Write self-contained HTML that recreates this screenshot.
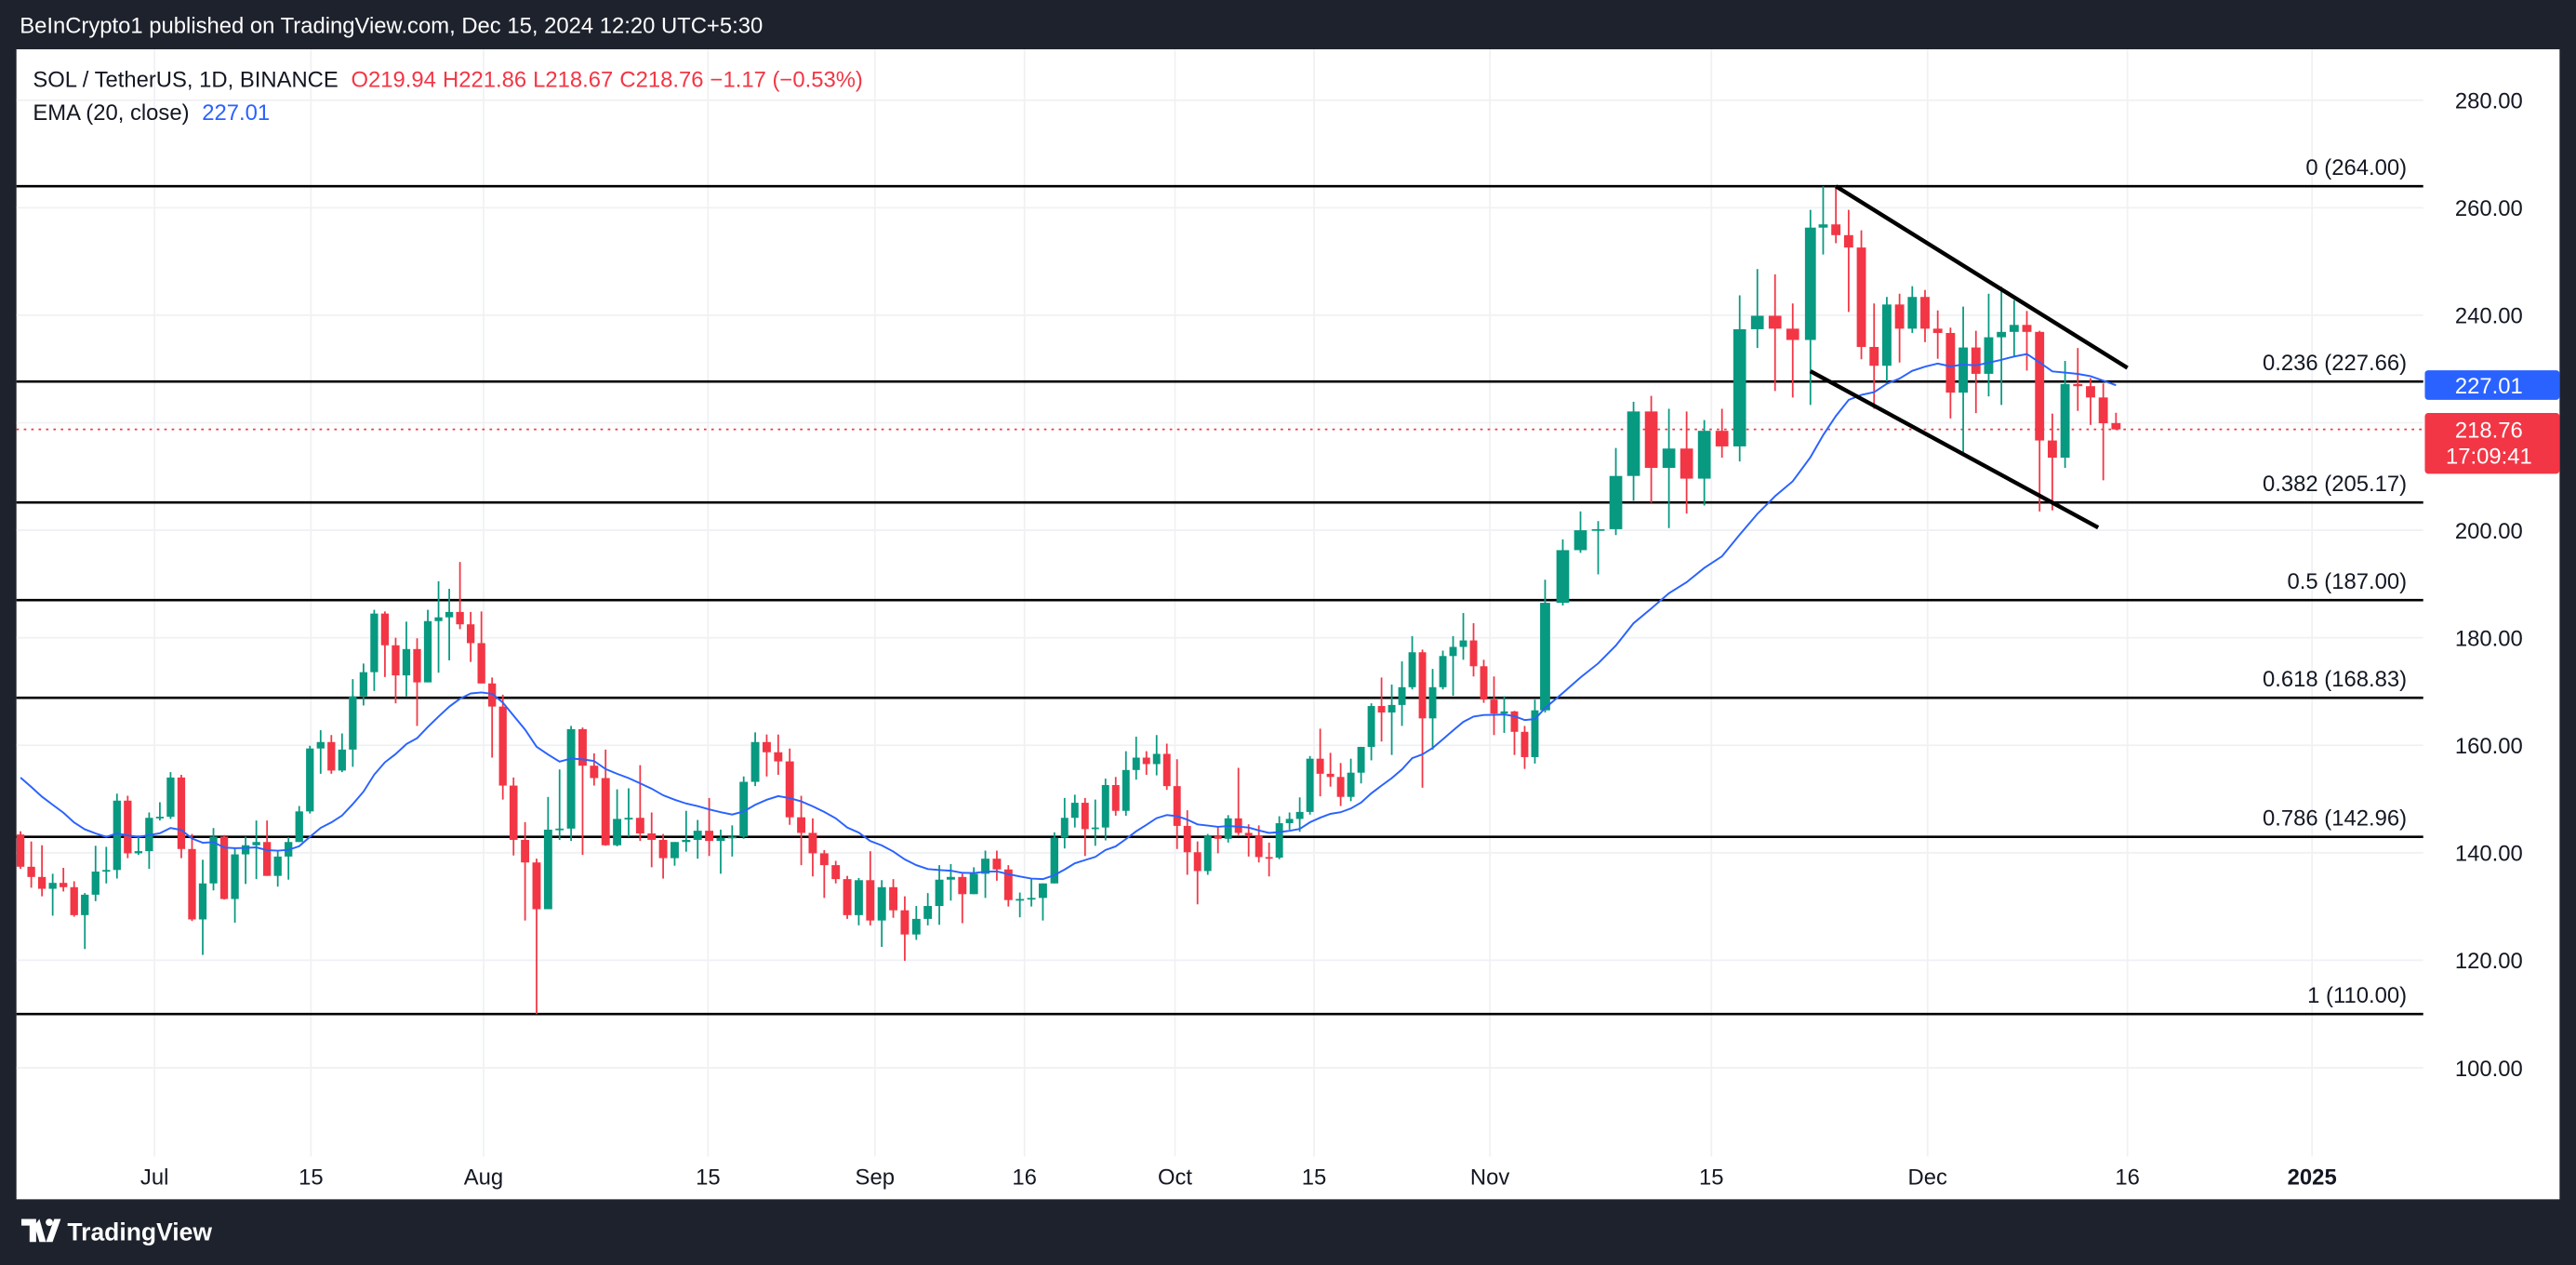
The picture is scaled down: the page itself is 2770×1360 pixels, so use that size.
<!DOCTYPE html>
<html><head><meta charset="utf-8">
<style>
html,body{margin:0;padding:0;background:#1e222d;}
svg{display:block;font-family:"Liberation Sans",sans-serif;}
</style></head>
<body>
<svg id="chart" width="2770" height="1360" viewBox="0 0 1568 770" preserveAspectRatio="none" xmlns="http://www.w3.org/2000/svg">
  <rect x="0" y="0" width="1568" height="770" fill="#1e222d"/>
  <text x="12" y="20" font-size="13.5" fill="#ffffff">BeInCrypto1 published on TradingView.com, Dec 15, 2024 12:20 UTC+5:30</text>
  <rect x="10" y="30" width="1548" height="700" fill="#ffffff"/>
  <g id="grid"></g>
  <g id="fibs"></g>
  <g id="candles"></g>
  <g id="ema"></g>
  <g id="channel"></g>
  <g id="yaxis"></g>
  <g id="xaxis"></g>
  <g>
    <text x="20" y="53" font-size="13.5" fill="#131722">SOL / TetherUS, 1D, BINANCE <tspan fill="#f23645" dx="4">O</tspan><tspan fill="#f23645">219.94</tspan><tspan fill="#f23645" dx="4">H221.86</tspan><tspan fill="#f23645" dx="4">L218.67</tspan><tspan fill="#f23645" dx="4">C218.76</tspan><tspan fill="#f23645" dx="4">−1.17 (−0.53%)</tspan></text>
    <text x="20" y="73" font-size="13.5" fill="#131722">EMA (20, close) <tspan fill="#2962ff" dx="4">227.01</tspan></text>
  </g>
  <g>
    <path d="M13 742 h9 v14 h-4 v-10 h-5 z M24 742 l4 14 h-4 l-3 -10 z" fill="#ffffff"/>
    <circle cx="30" cy="744" r="2.2" fill="#ffffff"/>
    <path d="M33 742 h4 l-5 14 h-4 z" fill="#ffffff"/>
    <text x="41" y="755" font-size="15" font-weight="bold" fill="#ffffff">TradingView</text>
  </g>
</svg>
<script>
// ---- data ----
const opens=[143.4,137.4,135.5,133.3,134.4,133.6,128.4,132.2,136.5,136.8,149.7,139.9,140.3,146.5,146.7,154,140.7,127.6,134.3,143,131.4,139.7,141.4,142,135.7,139.3,142,147.7,159.4,160.6,155.3,159.2,169.1,173.6,184.5,178.6,173,177.9,171.7,183.1,183.8,184.8,182.5,179,171.5,167.2,152.5,142.4,138.2,129.5,144.3,144.5,163,156.2,153.9,141.4,146.3,146.5,143.6,142.4,139,142,142.4,144.1,142.2,142.8,143,153.2,160.6,158.7,157,146.6,143.7,139.9,137.7,135.1,128.4,134.9,127.4,133.6,129.3,124.8,127.7,130.1,135,135.5,132.3,136.1,138.9,136.9,131.2,131.4,131.6,134.3,142.8,146.5,149.3,144.4,144.7,152.6,147.8,155.4,157.7,156.5,158.4,152.4,145,140.1,136.6,143.1,142.6,146.4,143.7,143.1,139.2,139.1,145.5,146.3,147.6,157.5,154.7,154.1,150.4,154.9,159.7,167.3,166.1,167.5,170.8,177.3,165,170.8,176.6,178.3,179.5,174.7,168.5,165.9,166.3,162.5,157.8,166.5,186.5,196.3,200,200.2,210.1,222.1,211.6,215.2,209.6,218.5,215.6,237.4,239.9,237.5,235.4,256.3,256.9,254.9,252.6,234.1,230.6,242,237.5,243.4,237.5,236.7,225.6,234,229.1,235.9,236.9,238.2,236.9,216.7,213.5,227.2,226.8,224.7,219.94];
const highs=[144,142.1,141.4,136.1,137.2,134.7,132.5,141.3,141.1,151,150.6,143,147.5,149.4,155,154.5,143.5,138.7,144.6,143.3,141,143,146,146,140.4,142.9,148.7,159.9,162.8,161.9,162.2,172.3,175.2,185.2,184.9,180,183,179.9,185.2,190.5,189.1,194.1,184.8,184.9,172.6,169.4,154,145.7,138.9,150.4,155.5,163.6,163.3,158.5,159.2,151.8,152,156.3,147.5,143.5,142,147.8,146.1,150.2,144.3,145.1,154.2,162.4,162,162,159.4,150.6,146.4,140.5,138.5,135.7,135.3,140.3,134.9,135.1,131.9,130.1,132.5,137.7,137.9,136.1,137.3,140.4,140.4,137.7,132.6,135.1,134.3,143.8,150.2,150.8,150.2,149.9,153.8,154.1,158.9,161.6,158.9,161.9,160.3,157.4,147.9,142.1,143.5,144.8,147,155.8,145.3,145.1,141.9,146.8,147.5,150.3,158,163.1,158.6,156.7,157.5,159.7,167.8,172.6,171.3,175.6,180.3,177.8,174.2,177.6,180.3,184.6,182.7,175.9,172.8,169.1,166.4,163.6,168.5,190.8,198.3,203.5,201.7,215.3,223.9,225,222.6,222.1,220.5,222.6,243.7,248.6,247.6,242.2,259.6,264,264,259.6,255.8,242.2,243.4,244,245.4,244.7,240.9,237.7,241.6,237.1,244,245.3,242.8,240.8,237.1,221.7,231.5,233.9,228.3,227.3,221.86];
const lows=[137,133.5,131.9,128.3,132.8,128.1,122.1,131,134.3,135.2,139,139.6,137,146,146.3,139,127.3,121,133,131.3,127,134.2,135.1,135.7,133.7,135,142,147.3,154.7,154.7,155,156,167.4,170.1,172.7,167.8,169.1,163.6,171.7,173.5,175.8,181.6,175.5,171.5,157.7,149.9,139.5,127.4,110,129.5,142.4,142.2,139.6,152.5,141.3,141.2,143,142.2,137.3,135.2,137.6,140.2,138.9,139.4,136.1,139.3,142.6,152.4,154.2,154.5,145.2,137.7,135.6,131.6,134.3,127.7,126.5,126.5,122.5,127.9,119.9,123.8,126.5,126.6,131.1,126.9,132.3,131.6,134.8,130,128,130,127.4,134.3,140.8,144.7,139.4,141.3,142.3,146.9,146.9,153.6,154.5,154.4,151.7,140.7,135.9,130.4,135.9,139.9,141.9,143.3,139.3,138.2,135.6,138.8,144.3,143.9,147.1,150.5,152.3,148.7,149.6,152.9,157.2,160.7,158.2,163.6,170.4,152.1,159.2,170.4,169.2,175.9,172.8,167.9,161.9,162.3,158.2,155.6,156.6,166.1,186,195.8,191.8,199.1,205.5,205.1,200.4,203.1,204.6,213.5,212.8,233.9,225.9,224.7,223.3,251.3,253.4,240.6,231.8,222.6,227.7,231.2,236.7,235,231.9,220.8,214.5,221.8,224.9,223.3,232.2,229.7,203.5,203.7,211.6,222.2,219.6,209.3,218.67];
const closes=[137.4,135.5,133.3,134.4,133.6,128.4,132.2,136.5,136.8,149.7,139.9,140.3,146.5,146.7,154,140.7,127.6,134.3,143,131.4,139.7,141.4,142,135.7,139.3,142,147.7,159.4,160.6,155.3,159.2,169.1,173.6,184.5,178.6,173,177.9,171.7,183.1,183.8,184.8,182.5,179,171.5,167.2,152.5,142.4,138.2,129.5,144.3,144.5,163,156.2,153.9,141.4,146.3,146.5,143.6,142.4,139,142,142.4,144.1,142.2,142.8,143,153.2,160.6,158.7,157,146.6,143.7,139.9,137.7,135.1,128.4,134.9,127.4,133.6,129.3,124.8,127.7,130.1,135,135.5,132.3,136.1,138.9,136.9,131.2,131.4,131.6,134.3,142.8,146.5,149.3,144.4,144.7,152.6,147.8,155.4,157.7,156.5,158.4,152.4,145,140.1,136.6,143.1,142.6,146.4,143.7,143.1,139.2,139.1,145.5,146.3,147.6,157.5,154.7,154.1,150.4,154.9,159.7,167.3,166.1,167.5,170.8,177.3,165,170.8,176.6,178.3,179.5,174.7,168.5,165.9,166.3,162.5,157.8,166.5,186.5,196.3,200,200.2,210.1,222.1,211.6,215.2,209.6,218.5,215.6,237.4,239.9,237.5,235.4,256.3,256.9,254.9,252.6,234.1,230.6,242,237.5,243.4,237.5,236.7,225.6,234,229.1,235.9,236.9,238.2,236.9,216.7,213.5,227.2,226.8,224.7,219.9,218.76];
const emaSeed=154;
const priceTicks=[280,260,240,220,200,180,160,140,120,100];
const timeTickLabels=["Jul","15","Aug","15","Sep","16","Oct","15","Nov","15","Dec","16","2025"];
const timeTickIdx=[13.5,28.1,44.2,63.9,78.4,91.4,105.8,119.4,136.6,151.4,166.2,181.9,196.4];
const fibRatios=["0","0.236","0.382","0.5","0.618","0.786","1"];
const fibPrices=[264,227.66,205.17,187,168.83,142.96,110];
const channelUpperIdx=[159,181.9], channelUpperPrice=[264,230.2];
const channelLowerIdx=[157,179.6], channelLowerPrice=[229.6,200.5];
const lastPrice=218.76, lastEma=227.01;

// ---- axes ----
const NS="http://www.w3.org/2000/svg";
const ancI=[1,47,94,142,157,181], ancX=[12.5,312.6,641.8,940.5,1102,1288];
function xIdx(i){
  if(i<=ancI[0]) return ancX[0]+(i-ancI[0])*6.52;
  for(let k=1;k<ancI.length;k++){ if(i<=ancI[k]){const t=(i-ancI[k-1])/(ancI[k]-ancI[k-1]);return ancX[k-1]+t*(ancX[k]-ancX[k-1]);} }
  return ancX[ancX.length-1]+(i-ancI[ancI.length-1])*7.75;
}
function spacing(i){return xIdx(i+0.5)-xIdx(i-0.5);}
function yP(p){return 61+(280-p)*3.272;}
function mk(tag,attrs,parent){const e=document.createElementNS(NS,tag);for(const k in attrs)e.setAttribute(k,attrs[k]);parent.appendChild(e);return e;}

const plotR=1475;
// grid
const grid=document.getElementById('grid');
priceTicks.forEach(p=>{const l=mk('line',{x1:10,x2:plotR,y1:yP(p),y2:yP(p),stroke:'#f0f1f4','stroke-width':1},grid);

});
timeTickIdx.forEach(i=>{const l=mk('line',{x1:xIdx(i),x2:xIdx(i),y1:30,y2:704,stroke:'#f0f1f4','stroke-width':1},grid);

});

// fib levels
const fibs=document.getElementById('fibs');
fibPrices.forEach((p,k)=>{
  const l=mk('line',{x1:10,x2:plotR,y1:yP(p),y2:yP(p),stroke:'#000','stroke-width':1.5},fibs);
  
  
  const t=mk('text',{x:1465,y:yP(p)-7,'text-anchor':'end','font-size':13.5,fill:'#131722'},fibs);
  t.textContent=fibRatios[k]+' ('+p.toFixed(2)+')';
  
  
});
// last price dotted line
const lp=mk('line',{x1:10,x2:plotR,y1:yP(lastPrice),y2:yP(lastPrice),stroke:'#f23645','stroke-width':1,'stroke-dasharray':'1.5 3'},fibs);



// candles
const cg=document.getElementById('candles');
for(let j=0;j<closes.length;j++){
  const i=j+1, x=xIdx(i), w=Math.max(2.5,spacing(i)*0.72);
  const up=closes[j]>=opens[j], col=up?'#089981':'#f23645';
  const g=mk('g',{},cg);
  
  
  mk('line',{x1:x,x2:x,y1:yP(highs[j]),y2:yP(lows[j]),stroke:col,'stroke-width':1},g);
  const top=yP(Math.max(opens[j],closes[j])), bot=yP(Math.min(opens[j],closes[j]));
  mk('rect',{x:x-w/2,y:top,width:w,height:Math.max(1,bot-top),fill:col},g);
}

// EMA
let e=emaSeed; const a=2/21; let d='';
for(let j=0;j<closes.length;j++){ if(j>0) e=closes[j]*a+e*(1-a); d+=(j?'L':'M')+xIdx(j+1).toFixed(1)+' '+yP(e).toFixed(1); }
const ep=mk('path',{d:d,fill:'none',stroke:'#2962ff','stroke-width':1.1},document.getElementById('ema'));



// channel
const ch=document.getElementById('channel');
const cu=mk('line',{x1:xIdx(channelUpperIdx[0]),y1:yP(channelUpperPrice[0]),x2:xIdx(channelUpperIdx[1]),y2:yP(channelUpperPrice[1]),stroke:'#000','stroke-width':2.5},ch);


const cl=mk('line',{x1:xIdx(channelLowerIdx[0]),y1:yP(channelLowerPrice[0]),x2:xIdx(channelLowerIdx[1]),y2:yP(channelLowerPrice[1]),stroke:'#000','stroke-width':2.5},ch);



// y axis
const ya=document.getElementById('yaxis');
priceTicks.forEach(p=>{const t=mk('text',{x:1515,y:yP(p)+5,'text-anchor':'middle','font-size':13.5,fill:'#131722'},ya);
t.textContent=p.toFixed(2);

});
const eb=mk('rect',{x:1476,y:yP(lastEma)-9,width:82,height:18,rx:2,fill:'#2962ff'},ya);


const et=mk('text',{x:1515,y:yP(lastEma)+5,'text-anchor':'middle','font-size':13.5,fill:'#fff'},ya);
et.textContent=lastEma.toFixed(2);


const pb=mk('rect',{x:1476,y:yP(lastPrice)-10,width:82,height:37,rx:2,fill:'#f23645'},ya);


const pt=mk('text',{x:1515,y:yP(lastPrice)+5,'text-anchor':'middle','font-size':13.5,fill:'#fff'},ya);
pt.textContent=lastPrice.toFixed(2);


const ct=mk('text',{x:1515,y:yP(lastPrice)+21,'text-anchor':'middle','font-size':13.5,fill:'#fff'},ya);
ct.textContent='17:09:41';



// x axis
const xa=document.getElementById('xaxis');
timeTickIdx.forEach((i,k)=>{const t=mk('text',{x:xIdx(i),y:721,'text-anchor':'middle','font-size':13.5,fill:'#131722','font-weight':timeTickLabels[k]==='2025'?'bold':'normal'},xa);
t.textContent=timeTickLabels[k];

});
</script>
</body></html>
